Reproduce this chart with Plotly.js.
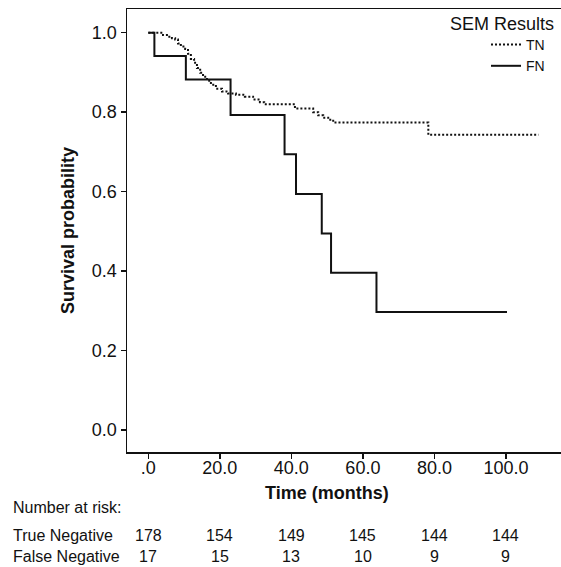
<!DOCTYPE html>
<html>
<head>
<meta charset="utf-8">
<script src="https://cdn.plot.ly/plotly-3.0.1.min.js"></script>
<style>
  html, body { margin: 0; padding: 0; background: #fff; }
  #chart { width: 561px; height: 567px; }
</style>
</head>
<body>
<div id="chart"></div>
<script>
// Kaplan-Meier step data
const tnTime = [0, 4.1, 5.5, 6.6, 7.5, 8.3, 9.1, 10.3, 11.1, 11.9, 12.8, 13.6, 14.5, 15.3, 16.4, 17.5, 18.9, 20.6, 22.3, 24.5, 27.0, 29.3, 31.2, 32.4, 41.0, 46.1, 47.5, 48.9, 50.3, 51.7, 78.3, 109.1];
const tnSurv = [1.0, 0.994, 0.990, 0.986, 0.983, 0.973, 0.965, 0.959, 0.947, 0.934, 0.924, 0.911, 0.899, 0.889, 0.879, 0.869, 0.859, 0.852, 0.847, 0.844, 0.839, 0.832, 0.825, 0.820, 0.809, 0.800, 0.792, 0.786, 0.781, 0.774, 0.743, 0.743];
const fnTime = [0, 1.7, 10.5, 23.0, 38.1, 41.3, 48.5, 51.1, 63.8, 100.3];
const fnSurv = [1.0, 0.941, 0.882, 0.793, 0.694, 0.594, 0.495, 0.396, 0.297, 0.297];

const xTickVals = [0, 20, 40, 60, 80, 100];
const xTickText = [".0", "20.0", "40.0", "60.0", "80.0", "100.0"];
const yTickVals = [0, 0.2, 0.4, 0.6, 0.8, 1.0];
const yTickText = ["0.0", "0.2", "0.4", "0.6", "0.8", "1.0"];

const seriesNames = ["TN", "FN"];
const riskRowLabels = ["True Negative", "False Negative"];
const riskTN = [178, 154, 149, 145, 144, 144];
const riskFN = [17, 15, 13, 10, 9, 9];

const FONT = "Liberation Sans, Arial, sans-serif";
const INK = "#111";

const traces = [
  {
    x: tnTime, y: tnSurv, name: seriesNames[0], type: "scatter", mode: "lines",
    line: { shape: "hv", color: INK, width: 2, dash: "2px,2px" }
  },
  {
    x: fnTime, y: fnSurv, name: seriesNames[1], type: "scatter", mode: "lines",
    line: { shape: "hv", color: INK, width: 2 }
  }
];

const W = 561, H = 567;
const mL = 127, mR = 0, mT = 9, mB = 115;
const pw = W - mL - mR, ph = H - mT - mB;
const px = X => (X - mL) / pw;          // page px -> paper x
const py = Y => (H - mB - Y) / ph;      // page px -> paper y

const annotations = [];
annotations.push({
  text: "SEM Results", xref: "paper", yref: "paper", x: px(556), y: py(24),
  xanchor: "right", yanchor: "middle", showarrow: false,
  font: { family: FONT, size: 18, color: INK }
});
annotations.push({
  text: "<b>Time (months)</b>", xref: "paper", yref: "paper", x: px(327), y: py(493),
  xanchor: "center", yanchor: "middle", showarrow: false,
  font: { family: FONT, size: 18, color: INK }
});
annotations.push({
  text: "Number at risk:", xref: "paper", yref: "paper", x: px(11), y: py(508),
  xanchor: "left", yanchor: "middle", showarrow: false,
  font: { family: FONT, size: 16, color: INK }
});
const rowsY = [535, 556];
const riskRows = [riskTN, riskFN];
riskRowLabels.forEach((lab, r) => {
  annotations.push({
    text: lab, xref: "paper", yref: "paper", x: px(11), y: py(rowsY[r]),
    xanchor: "left", yanchor: "middle", showarrow: false,
    font: { family: FONT, size: 16, color: INK }
  });
  riskRows[r].forEach((v, i) => {
    annotations.push({
      text: String(v), xref: "x", yref: "paper", x: xTickVals[i], y: py(rowsY[r]),
      xanchor: "center", yanchor: "middle", showarrow: false,
      font: { family: FONT, size: 16, color: INK }
    });
  });
});

const layout = {
  width: W, height: H,
  margin: { l: mL, r: mR, t: mT, b: mB, pad: 0 },
  paper_bgcolor: "#fff", plot_bgcolor: "#fff",
  font: { family: FONT, color: INK },
  showlegend: true,
  legend: {
    x: px(550), xanchor: "right", y: py(29), yanchor: "top",
    bgcolor: "rgba(0,0,0,0)", borderwidth: 0,
    font: { family: FONT, size: 14, color: INK },
    itemwidth: 30, tracegroupgap: 0, traceorder: "normal"
  },
  xaxis: {
    range: [-5.96, 115.4], showgrid: false, zeroline: false,
    showline: true, linecolor: INK, linewidth: 1.5, mirror: true,
    ticks: "outside", ticklen: 5, tickwidth: 1.5, tickcolor: INK,
    ticklabelstandoff: -6,
    tickvals: xTickVals, ticktext: xTickText,
    tickfont: { family: FONT, size: 18, color: INK }
  },
  yaxis: {
    range: [-0.055, 1.0595], showgrid: false, zeroline: false,
    showline: true, linecolor: INK, linewidth: 1.5, mirror: false,
    ticks: "outside", ticklen: 5, tickwidth: 1.5, tickcolor: INK,
    tickvals: yTickVals, ticktext: yTickText,
    tickfont: { family: FONT, size: 18, color: INK },
    title: { text: "<b>Survival probability</b>", standoff: 12,
             font: { family: FONT, size: 18, color: INK } }
  },
  annotations: annotations
};

Plotly.newPlot("chart", traces, layout, { displayModeBar: false, staticPlot: true });
</script>
</body>
</html>
